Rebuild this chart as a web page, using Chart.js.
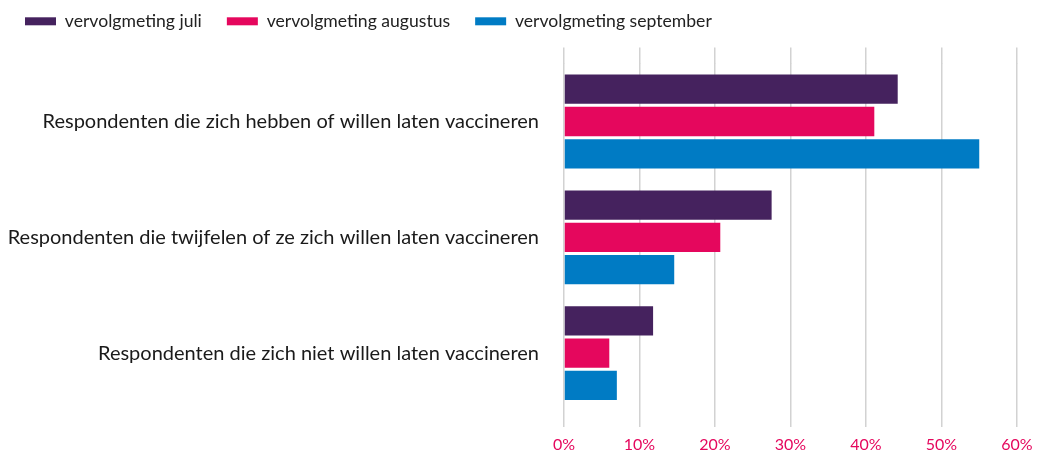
<!DOCTYPE html>
<html>
<head>
<meta charset="utf-8">
<script src="https://cdn.jsdelivr.net/npm/chart.js@4/dist/chart.umd.min.js"></script>
<style>
  html, body { margin: 0; padding: 0; background: #fff; }
  #wrap { width: 1037px; height: 455px; position: relative; }
</style>
</head>
<body>
<div id="wrap"><canvas id="vaccChart"></canvas></div>
<script>
// Data (percentages)
const categories = [
    'Respondenten die zich hebben of willen laten vaccineren',
    'Respondenten die twijfelen of ze zich willen laten vaccineren',
    'Respondenten die zich niet willen laten vaccineren'
];
const seriesNames = ['vervolgmeting juli', 'vervolgmeting augustus', 'vervolgmeting september'];
const juli = [44.2, 27.5, 11.8];
const augustus = [41.1, 20.7, 6.0];
const september = [55.0, 14.6, 7.0];
const xTicks = [0, 10, 20, 30, 40, 50, 60];

const colors = ['#45225e', '#e5075d', '#007bc4'];
const pink = '#e5075d';
const gridColor = '#d2d2d2';
const fontFamily = 'Lato, "Open Sans", sans-serif';

document.addEventListener('DOMContentLoaded', function () {
    const ctx = document.getElementById('vaccChart').getContext('2d');
    const values = [juli, augustus, september];

    new Chart(ctx, {
        type: 'bar',
        data: {
            labels: categories,
            datasets: seriesNames.map((name, i) => ({
                label: name,
                data: values[i],
                backgroundColor: colors[i],
                borderWidth: 0,
                categoryPercentage: 0.836,
                barPercentage: 0.907,
                xAxisID: 'x'
            }))
        },
        options: {
            indexAxis: 'y',
            responsive: true,
            maintainAspectRatio: false,
            animation: false,
            layout: { padding: { top: -12.5, left: 0, right: 20, bottom: 0 } },
            plugins: {
                legend: {
                    position: 'top',
                    align: 'start',
                    labels: {
                        boxWidth: 31,
                        boxHeight: 8,
                        padding: 25,
                        color: '#222',
                        font: { family: fontFamily, size: 17.6 }
                    }
                },
                tooltip: { enabled: false }
            },
            scales: {
                x: {
                    position: 'bottom',
                    min: 0,
                    max: 60,
                    afterBuildTicks: s => { s.ticks = xTicks.map(v => ({ value: v })); },
                    // fixed height, and don't let the last label squeeze the plot
                    afterFit: s => { s.height = 44; s.paddingRight = 20; },
                    border: { display: false },
                    grid: { color: gridColor, lineWidth: 1.5, tickLength: 16, tickColor: gridColor },
                    ticks: {
                        color: pink,
                        padding: 8,
                        font: { family: fontFamily, size: 16 },
                        callback: v => v + '%'
                    }
                },
                x2: {
                    position: 'top',
                    min: 0,
                    max: 60,
                    afterBuildTicks: s => { s.ticks = xTicks.map(v => ({ value: v })); },
                    afterFit: s => { s.height = 23.5; s.paddingRight = 20; },
                    border: { display: false },
                    grid: { drawOnChartArea: false, color: gridColor, lineWidth: 1.5, tickLength: 16 },
                    ticks: { display: false }
                },
                y: {
                    afterFit: s => { s.width = 564; },
                    border: { display: false },
                    grid: { display: false, drawTicks: false },
                    ticks: {
                        color: '#1a1a1a',
                        padding: 25,
                        font: { family: fontFamily, size: 20 }
                    }
                }
            }
        }
    });
});
</script>
</body>
</html>
